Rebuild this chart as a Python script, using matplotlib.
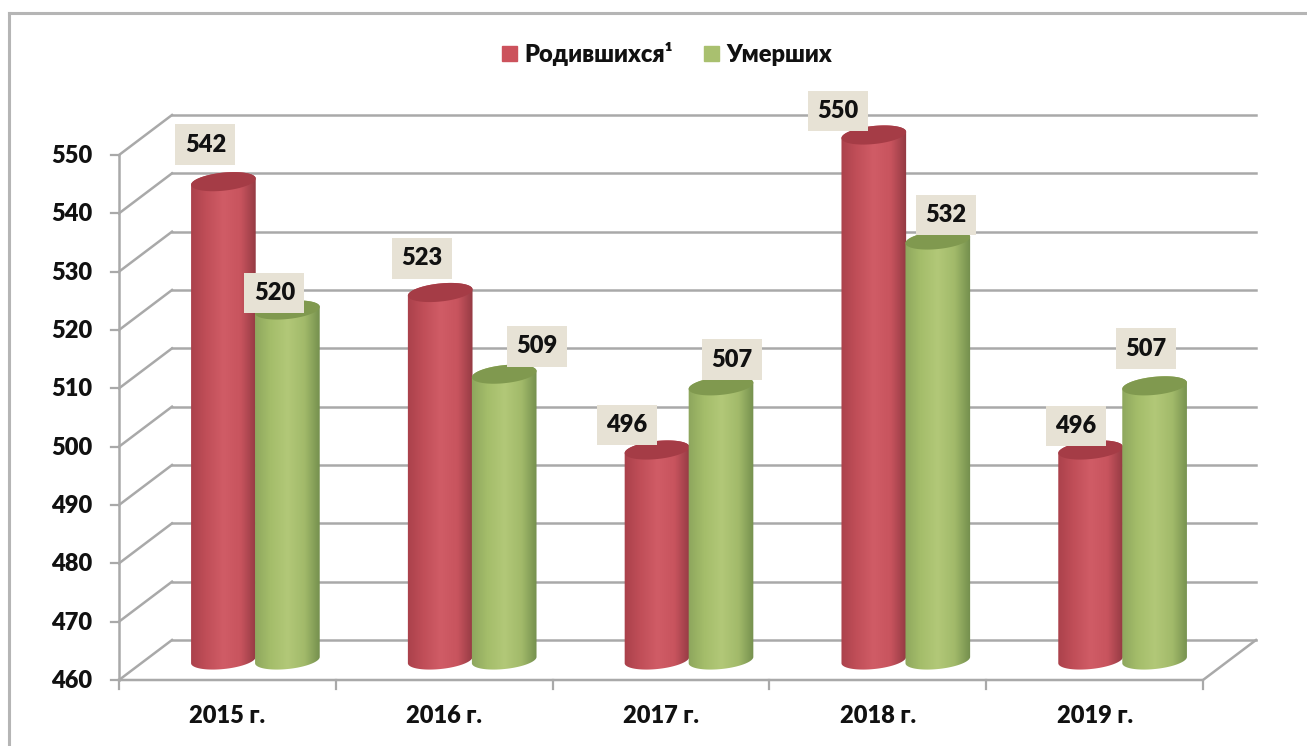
import numpy as np
import matplotlib
matplotlib.use('Agg')
import matplotlib.pyplot as plt
from matplotlib.patches import Patch, Polygon
from matplotlib.colors import LinearSegmentedColormap

years = ['2015 г.', '2016 г.', '2017 г.', '2018 г.', '2019 г.']
born = [542, 523, 496, 550, 496]
died = [520, 509, 507, 532, 507]
y_ticks = [460, 470, 480, 490, 500, 510, 520, 530, 540, 550]

W, H = 1307, 746
PX_X = 216.8      # pixels per category
PX_Y = 525 / 90   # pixels per thousand
DEPTH_X, DEPTH_Y = 53, 40   # back wall offset in pixels
CYL_A, CYL_B, CYL_TILT = 32.5, 9, np.radians(6)

# label offsets from the top of each cylinder, pixels
born_off = [(-18, 37), (-18, 34), (-30, 25), (-36, 24), (-15, 24)]
died_off = [(-13, 17), (33, 28), (11, 26), (8, 25), (-9, 37)]

GRID = '#a9a9a9'
red_map = LinearSegmentedColormap.from_list('r', ['#a8404a', '#c04e58', '#d05c66', '#c8545e', '#8e3740'])
green_map = LinearSegmentedColormap.from_list('g', ['#8ba45c', '#a4bd6a', '#b2c878', '#a2ba6a', '#6f8a4a'])

plt.rcParams['font.family'] = ['Lato', 'Noto Sans']
plt.rcParams['font.weight'] = 'heavy'
FS = 17

fig = plt.figure(figsize=(W / 100, H / 100), dpi=100)
ax = fig.add_axes([0, 0, 1, 1])
# the axes fill the figure; x=0..5 and y=460..550 land on the front plane of the chart
ax.set_xlim(-119 / PX_X, (W - 119) / PX_X)
ax.set_ylim(460 - (H - 680) / PX_Y, 460 + 680 / PX_Y)
ax.axis('off')

dx = DEPTH_X / PX_X
dy = DEPTH_Y / PX_Y

# outer frame
ax.plot([(9 - 119) / PX_X] * 2, [ax.get_ylim()[0], 460 + (680 - 13) / PX_Y], color='#b5b5b5', lw=2.2, zorder=1)
ax.plot([(9 - 119) / PX_X, ax.get_xlim()[1]], [460 + (680 - 13) / PX_Y] * 2, color='#b5b5b5', lw=2.2, zorder=1)

# wall gridlines, side diagonals and y axis
for v in y_ticks:
    ax.plot([dx, 5 + dx], [v + dy, v + dy], color=GRID, lw=1.8, zorder=2)
    ax.plot([0, dx], [v, v + dy], color=GRID, lw=1.8, zorder=2)
    ax.plot([-8 / PX_X, 0], [v, v], color=GRID, lw=1.6, zorder=2)
    ax.text(-27 / PX_X, v - 1 / PX_Y, str(v), ha='right', va='center', fontsize=FS, color='#111111', zorder=6)
ax.plot([0, 0], [460, 550], color=GRID, lw=1.8, zorder=2)
ax.plot([0, 5, 5 + dx], [460, 460, 460 + dy], color=GRID, lw=1.8, zorder=2)
for i in range(6):
    ax.plot([i, i], [460, 460 - 9 / PX_Y], color=GRID, lw=1.6, zorder=2)
for i, name in enumerate(years):
    ax.text(i + 0.5, 460 - 36 / PX_Y, name, ha='center', va='center', fontsize=FS, color='#111111', zorder=6)


def ellipse(xc, yc, t):
    # tilted ellipse in data coordinates, radii in pixels
    ox = CYL_A * np.cos(t) * np.cos(CYL_TILT) - CYL_B * np.sin(t) * np.sin(CYL_TILT)
    oy = CYL_A * np.cos(t) * np.sin(CYL_TILT) + CYL_B * np.sin(t) * np.cos(CYL_TILT)
    return np.column_stack([xc + ox / PX_X, yc + oy / PX_Y])


def cylinder(xc, value, cmap, top_color, z):
    base = 460 + dy / 2
    top = value + dy / 2
    low = ellipse(xc, base, np.linspace(np.pi, 2 * np.pi, 60))
    high = ellipse(xc, top, np.linspace(0, np.pi, 60))
    body = Polygon(np.vstack([low, high]), closed=True, transform=ax.transData, fc='none', ec='none')
    ax.add_patch(body)
    grad = np.linspace(0, 1, 256).reshape(1, -1)
    half = (CYL_A + 2) / PX_X
    im = ax.imshow(grad, cmap=cmap, aspect='auto', extent=[xc - half, xc + half, base - 3, top + 3],
                   zorder=z, interpolation='bilinear')
    im.set_clip_path(body)
    cap = Polygon(ellipse(xc, top, np.linspace(0, 2 * np.pi, 80)), closed=True, fc=top_color, ec='none', zorder=z + 0.1)
    ax.add_patch(cap)


def value_label(xc, value, off):
    ax.annotate(str(value), xy=(xc, value + dy / 2), xytext=off, textcoords='offset pixels',
                ha='center', va='center', fontsize=FS, color='#111111', zorder=8,
                bbox=dict(boxstyle='square,pad=0.4', fc='#e7e2d5', ec='none'))


half_bar = 32 / PX_X
shift = 1.5 / PX_X
for i in range(len(years)):
    center = i + 0.5 + dx / 2 + shift
    cylinder(center - half_bar, born[i], red_map, '#a53c46', 4)
    cylinder(center + half_bar, died[i], green_map, '#80994f', 5)
for i in range(len(years)):
    center = i + 0.5 + dx / 2 + shift
    value_label(center - half_bar, born[i], born_off[i])
    value_label(center + half_bar, died[i], died_off[i])

# imshow resets the limits
ax.set_xlim(-119 / PX_X, (W - 119) / PX_X)
ax.set_ylim(460 - (H - 680) / PX_Y, 460 + 680 / PX_Y)

handles = [Patch(color='#cc525c', label='Родившихся¹'), Patch(color='#a9c06f', label='Умерших')]
fig.legend(handles=handles, loc='center', bbox_to_anchor=(667 / W, 1 - 54 / H), ncol=2, frameon=False,
           fontsize=FS, handlelength=0.62, handleheight=0.62, handletextpad=0.3, columnspacing=1.35,
           labelcolor='#111111')

fig.savefig('out.png', dpi=100, facecolor='white')
